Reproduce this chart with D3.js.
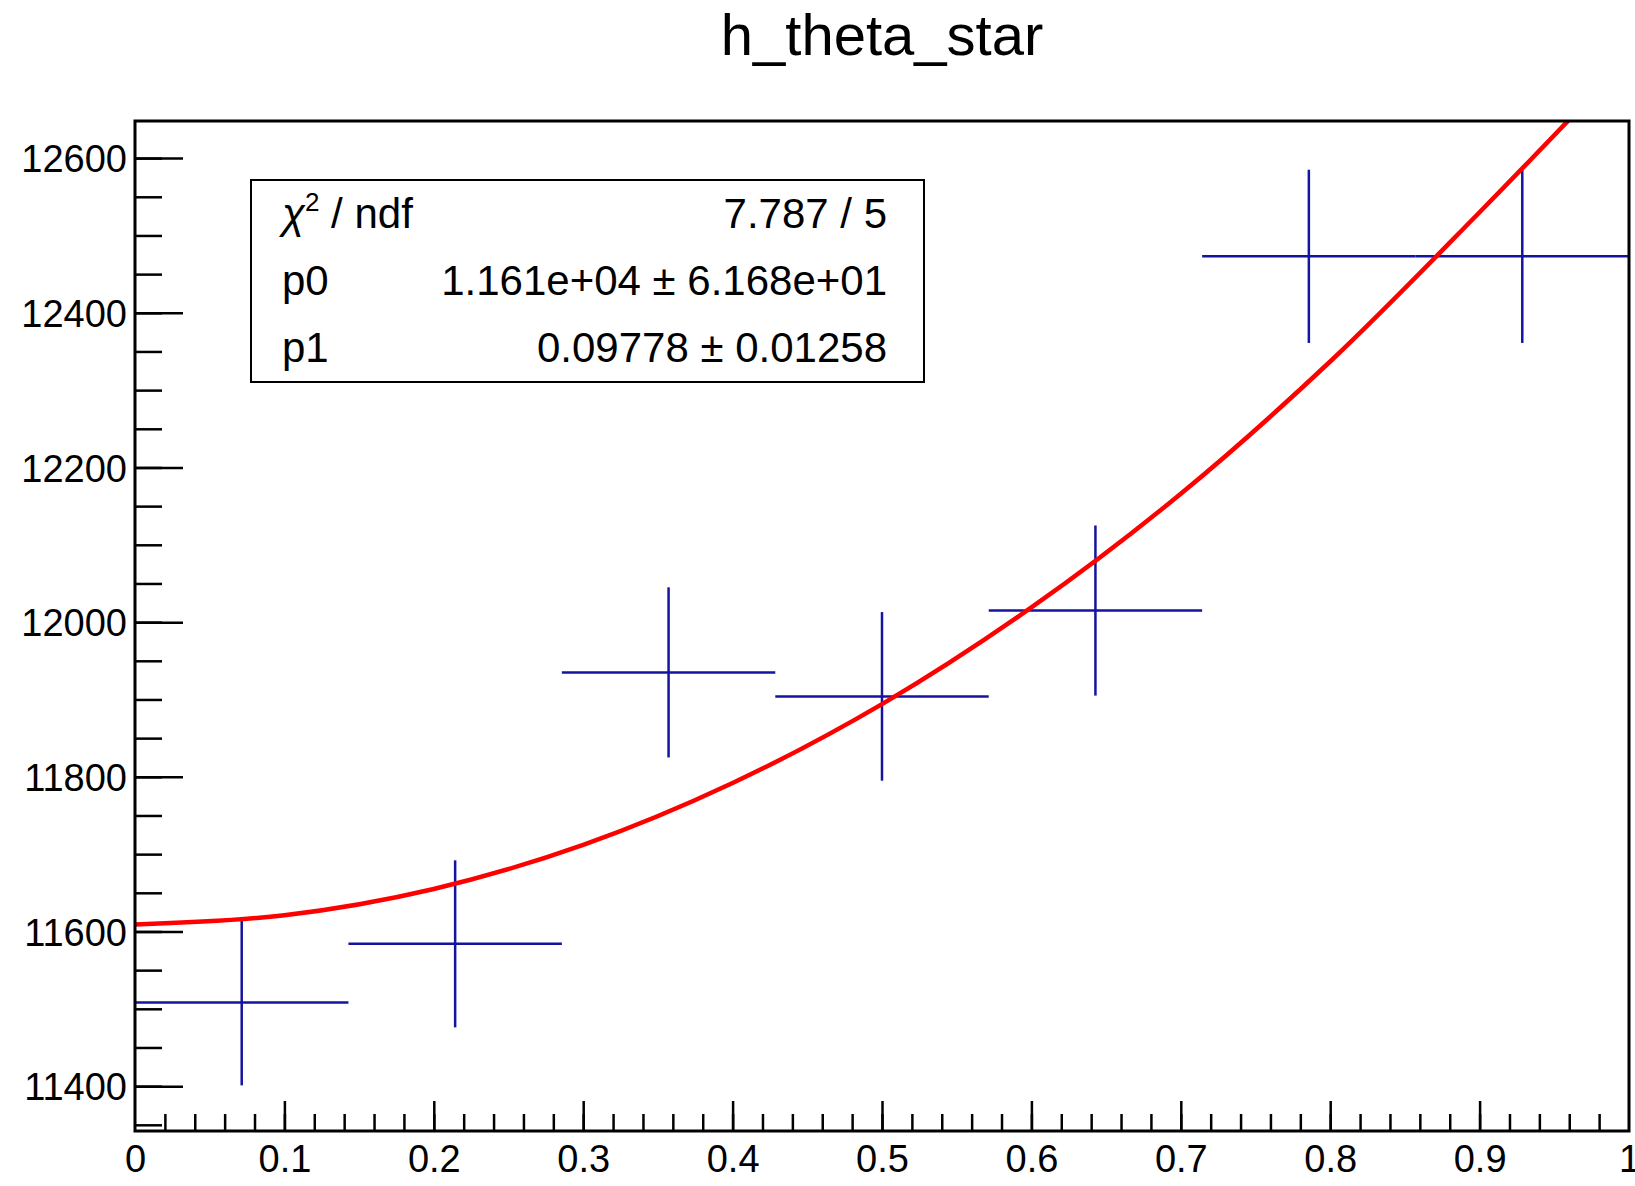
<!DOCTYPE html>
<html>
<head>
<meta charset="utf-8">
<script src="https://d3js.org/d3.v7.min.js"></script>
<style>
	html, body { margin: 0; padding: 0; background: #fff; }
	svg { display: block; font-family: 'Liberation Sans', Arial, Helvetica, sans-serif; }
</style>
</head>
<body>
<svg></svg>
<script>
'use strict'

// histogram h_theta_star: 7 bins over [0, 1]
let bin_edges = [0, 1/7, 2/7, 3/7, 4/7, 5/7, 6/7, 1],
	bin_values = [11508, 11584, 11935, 11904, 12015, 12473, 12473],
	bin_errors = [107, 108, 110, 109, 110, 112, 112]

// fit curve
let fit_x = [0, 0.1, 0.2, 0.3, 0.4, 0.5, 0.6, 0.7, 0.8, 0.9, 0.97],
	fit_y = [11609, 11621, 11655, 11712, 11792, 11894, 12019, 12166, 12337, 12530, 12670]

// stats box lines: [label, value]
let stat_labels = ['χ2 / ndf', 'p0', 'p1'],
	stat_values = ['7.787 / 5', '1.161e+04 \u00b1 6.168e+01', '0.09778 \u00b1 0.01258']

let title = 'h_theta_star',
	x_major = d3.range(0, 1.0001, 0.1),
	x_minor = d3.range(0, 1.0001, 0.02),
	y_major = d3.range(11400, 12601, 200),
	y_minor = d3.range(11350, 12648, 50)

let W = 1635, H = 1186,
	frame = {left: 135, right: 1629, top: 121, bottom: 1131},
	x = d3.scaleLinear().domain([0, 1]).range([frame.left, frame.right]),
	y = d3.scaleLinear().domain([11342, 12648]).range([frame.bottom, frame.top]),
	c_hist = '#1414a0', c_fit = '#ff0000'

let svg = d3.select('svg').attr('width', W).attr('height', H)

svg.append('defs').append('clipPath').attr('id', 'frame-clip')
	.append('rect')
		.attr('x', frame.left).attr('y', frame.top)
		.attr('width', frame.right - frame.left).attr('height', frame.bottom - frame.top)

// title
svg.append('text')
	.attr('x', (frame.left + frame.right) / 2).attr('y', 55)
	.attr('text-anchor', 'middle').attr('font-size', 58).text(title)

// axes: minor ticks without labels, then major ticks with labels
let axis_style = s => s.call(s => s.select('.domain').remove())
	.call(s => s.selectAll('line').attr('stroke', '#000').attr('stroke-width', 2.5))
	.call(s => s.selectAll('text').attr('fill', '#000').attr('font-size', 38))

svg.append('g').attr('transform', `translate(${frame.left} 0)`)
	.call(d3.axisLeft(y).tickValues(y_minor).tickSize(-27).tickFormat(''))
	.call(axis_style)
svg.append('g').attr('transform', `translate(${frame.left} 0)`)
	.call(d3.axisLeft(y).tickValues(y_major).tickSize(-48).tickPadding(8).tickFormat(d3.format('d')))
	.call(axis_style)
	.call(s => s.selectAll('text').attr('dy', '0.36em'))

svg.append('g').attr('transform', `translate(0 ${frame.bottom})`)
	.call(d3.axisBottom(x).tickValues(x_minor.slice(1, -1)).tickSize(-17).tickFormat(''))
	.call(axis_style)
svg.append('g').attr('transform', `translate(0 ${frame.bottom})`)
	.call(d3.axisBottom(x).tickValues(x_major).tickSize(-30).tickPadding(14).tickFormat(d3.format('~g')))
	.call(axis_style)
	.call(s => s.selectAll('text').attr('dy', '0.71em'))
	.call(s => s.selectAll('.tick').filter(d => d === 0 || d > 0.999).select('line').remove())

// histogram error crosses
let plot = svg.append('g').attr('clip-path', 'url(#frame-clip)')
plot.append('g').attr('stroke', c_hist).attr('stroke-width', 2.5)
	.selectAll('g').data(bin_values.map((v, i) => ({
		lo: bin_edges[i], hi: bin_edges[i+1], v: v, e: bin_errors[i] })))
	.join('g')
	.call(s => s.append('line')
		.attr('x1', d => x(d.lo)).attr('x2', d => x(d.hi))
		.attr('y1', d => y(d.v)).attr('y2', d => y(d.v)))
	.call(s => s.append('line')
		.attr('x1', d => x((d.lo + d.hi) / 2)).attr('x2', d => x((d.lo + d.hi) / 2))
		.attr('y1', d => y(d.v - d.e)).attr('y2', d => y(d.v + d.e)))

// fit curve
plot.append('path')
	.datum(d3.zip(fit_x, fit_y))
	.attr('fill', 'none').attr('stroke', c_fit).attr('stroke-width', 4.5)
	.attr('d', d3.line().x(d => x(d[0])).y(d => y(d[1])).curve(d3.curveCatmullRom))

// frame
svg.append('rect')
	.attr('x', frame.left).attr('y', frame.top)
	.attr('width', frame.right - frame.left).attr('height', frame.bottom - frame.top)
	.attr('fill', 'none').attr('stroke', '#000').attr('stroke-width', 3)

// stats box
Stats: {
	let box = {left: 251, right: 924, top: 180, bottom: 382},
		row_h = (box.bottom - box.top) / stat_labels.length,
		g = svg.append('g').attr('font-size', 42).attr('fill', '#000')

	g.append('rect')
		.attr('x', box.left).attr('y', box.top)
		.attr('width', box.right - box.left).attr('height', box.bottom - box.top)
		.attr('fill', '#fff').attr('stroke', '#000').attr('stroke-width', 2)

	stat_labels.forEach((label, n) => {
		let by = box.top + row_h * (n + 0.5) + 14,
			t = g.append('text').attr('x', 282).attr('y', by)
		if (label.startsWith('χ2')) {
			t.append('tspan').attr('font-style', 'italic').text('χ')
			t.append('tspan').attr('font-size', 26).attr('dy', -17).text('2')
			t.append('tspan').attr('dy', 17).text(' / ndf') }
		else t.text(label)
		g.append('text').attr('x', 887).attr('y', by)
			.attr('text-anchor', 'end').text(stat_values[n]) })
} // Stats
</script>
</body>
</html>
